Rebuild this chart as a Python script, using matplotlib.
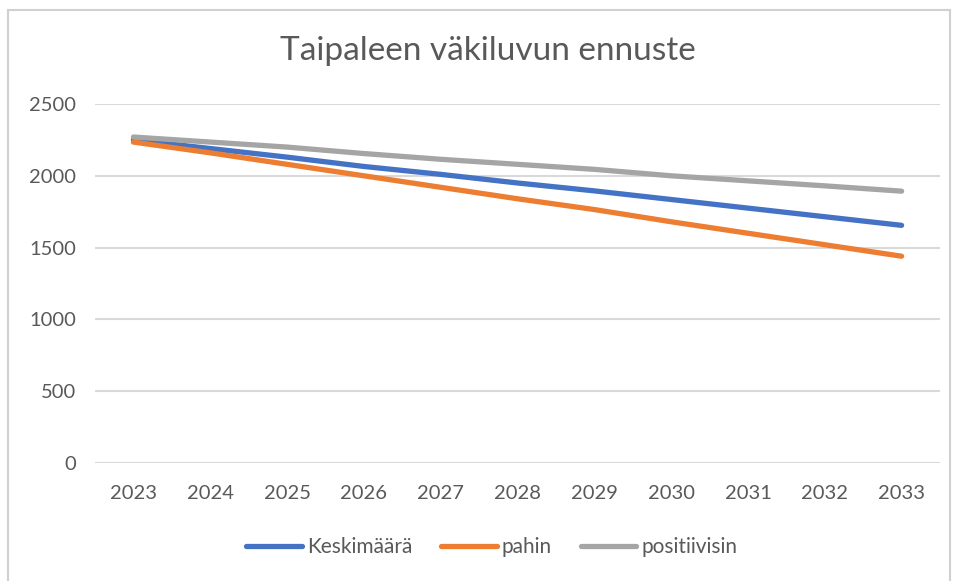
import matplotlib.pyplot as plt
from matplotlib.patches import Rectangle

plt.rcParams["font.family"] = ["Lato", "DejaVu Sans"]

years = ["2023", "2024", "2025", "2026", "2027", "2028",
         "2029", "2030", "2031", "2032", "2033"]
keskimaara = [2250, 2190, 2130, 2065, 2010, 1950, 1895, 1835, 1775, 1715, 1655]
pahin = [2235, 2160, 2080, 2000, 1920, 1840, 1765, 1680, 1600, 1520, 1440]
positiivisin = [2270, 2235, 2200, 2155, 2115, 2080, 2045, 2000, 1965, 1930, 1893]

TEXT = "#595959"
GRID = "#D9D9D9"

fig = plt.figure(figsize=(9.57, 5.81), dpi=100)
fig.patches.append(
    Rectangle((8 / 957, -0.01), 942 / 957, 1 - 10 / 581 + 0.01,
              transform=fig.transFigure, fill=False,
              edgecolor="#D0D0D0", linewidth=1.5)
)

ax = fig.add_axes([95 / 957, 1 - 463 / 581, 845 / 957, 359 / 581])

x = list(range(len(years)))
series = [
    ("Keskimäärä", keskimaara, "#4472C4"),
    ("pahin", pahin, "#ED7D31"),
    ("positiivisin", positiivisin, "#A5A5A5"),
]
for name, vals, color in series:
    ax.plot(x, vals, color=color, linewidth=3.8, label=name,
            solid_capstyle="round", solid_joinstyle="round")

ax.set_xlim(-0.5, len(years) - 0.5)
ax.set_ylim(0, 2500)
ax.set_yticks(range(0, 2501, 500))
ax.set_xticks(x)
ax.set_xticklabels(years)
ax.grid(axis="y", color=GRID, linewidth=1.5)
ax.set_axisbelow(True)
for s in ax.spines.values():
    s.set_visible(False)
ax.tick_params(length=0, labelsize=14.5, labelcolor=TEXT)
ax.tick_params(axis="y", pad=13.5)
ax.tick_params(axis="x", pad=16)

fig.text(0.51, 1 - 51 / 581, "Taipaleen väkiluvun ennuste",
         ha="center", va="center", fontsize=24, color=TEXT)

fig.legend(loc="center", bbox_to_anchor=(0.514, 1 - 547 / 581), ncol=3,
           frameon=False, fontsize=15, labelcolor=TEXT,
           handlelength=2.65, handletextpad=0.25, columnspacing=1.4)

fig.savefig("out.png", dpi=100)
